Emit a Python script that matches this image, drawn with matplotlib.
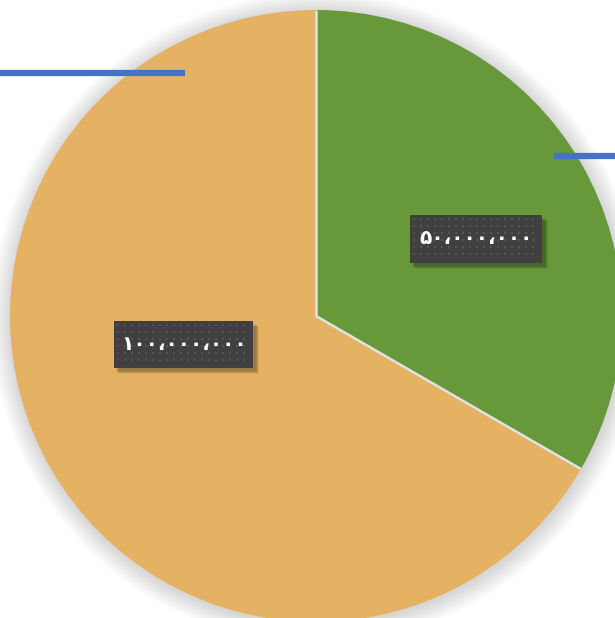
import matplotlib
matplotlib.use("Agg")
import matplotlib.pyplot as plt
from matplotlib.patches import Rectangle, Circle
import numpy as np

# data
values = [50000000, 100000000]
labels = ["۵۰،۰۰۰،۰۰۰", "۱۰۰،۰۰۰،۰۰۰"]
colors = ["#67983A", "#E4B262"]

W, H = 615, 618
fig = plt.figure(figsize=(W / 100, H / 100), dpi=100)
ax = fig.add_axes([0, 0, 1, 1])
ax.set_xlim(0, W)
ax.set_ylim(0, H)
ax.set_aspect("equal")
ax.axis("off")

def py(y):
    return H - y

cx, cy, R = 316, py(316), 306

# soft shadow around pie
for i in range(20):
    ax.add_patch(Circle((cx + 1, cy - 2), R + 20 - i, color="#000000",
                        alpha=0.008, lw=0, zorder=0))

wedges, _ = ax.pie(values, colors=colors, startangle=90, counterclock=False,
                   center=(cx, cy), radius=R,
                   wedgeprops=dict(edgecolor="none", linewidth=0))
ax.set_xlim(0, W)
ax.set_ylim(0, H)

# separator lines between slices
for w in wedges:
    t = np.deg2rad(w.theta1)
    ax.plot([cx, cx + R * np.cos(t)], [cy, cy + R * np.sin(t)],
            color="#E2E2E2", lw=1.8, zorder=3, solid_capstyle="butt")

# blue leader lines
ax.plot([0, 185], [py(73), py(73)], color="#4472C4", lw=4.5, zorder=5,
        solid_capstyle="butt")
ax.plot([554, 615], [py(156), py(156)], color="#4472C4", lw=4.5, zorder=5,
        solid_capstyle="butt")

# label boxes (pixel positions: left, top, width, height)
boxes = [(410, 215, 132, 48), (114, 321, 139, 47)]
for (bx, by, bw, bh), lab in zip(boxes, labels):
    # shadow
    for k in range(6):
        ax.add_patch(Rectangle((bx + 2 + k * 0.6, py(by + bh) - 3 - k * 0.6),
                               bw + 1, bh, color="#000000", alpha=0.06,
                               lw=0, zorder=6))
    ax.add_patch(Rectangle((bx, py(by + bh)), bw, bh, facecolor="#404040",
                           edgecolor="none", lw=0, zorder=7))
    # dot pattern
    xs = np.arange(bx + 4, bx + bw - 2, 7)
    ys = np.arange(by + 4, by + bh - 2, 7)
    gx, gy = np.meshgrid(xs, ys)
    ax.scatter(gx.ravel(), py(gy.ravel()), s=2.2, marker="s", color="#555555",
               lw=0, zorder=8)
    ax.text(bx + bw / 2, py(by + bh / 2), lab, ha="center", va="center",
            color="white", fontsize=14.5, fontweight="bold",
            family=["DejaVu Sans"], zorder=9)

fig.savefig("out.png", dpi=100)
